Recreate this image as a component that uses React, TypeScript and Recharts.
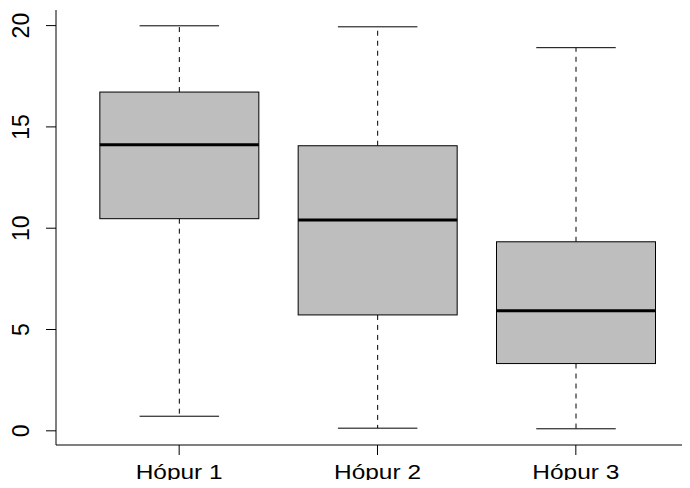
import React from 'react'
import { ComposedChart, Bar, XAxis, YAxis } from 'recharts'

// five-number summaries per group
const groups = ['Hópur 1', 'Hópur 2', 'Hópur 3']
const lowerWhisker = [0.72, 0.13, 0.1]
const lowerQuartile = [10.47, 5.72, 3.32]
const medians = [14.12, 10.4, 5.93]
const upperQuartile = [16.72, 14.07, 9.33]
const upperWhisker = [19.99, 19.94, 18.91]
const yTicks = [0, 5, 10, 15, 20]

const data = groups.map((name, i) => ({
  name,
  low: lowerWhisker[i],
  q1: lowerQuartile[i],
  med: medians[i],
  q3: upperQuartile[i],
  high: upperWhisker[i],
}))

const FONT = '"Liberation Sans", Arial, Helvetica, sans-serif'

// the bar spans the whisker range; the rest of the box is placed along the same scale
function BoxShape(props: any) {
  const { x, y, width, height } = props
  const d = props.payload ?? props
  const top = Math.min(y, y + height)
  const span = Math.abs(height)
  const k = span / (d.high - d.low)
  const py = (v: number) => top + (d.high - v) * k
  const cx = x + width / 2
  const capHalf = width / 4
  return (
    <g>
      <line x1={cx} x2={cx} y1={py(d.q3)} y2={py(d.high)} stroke="#000" strokeDasharray="5,5" />
      <line x1={cx} x2={cx} y1={py(d.q1)} y2={py(d.low)} stroke="#000" strokeDasharray="5,5" />
      <line x1={cx - capHalf} x2={cx + capHalf} y1={py(d.high)} y2={py(d.high)} stroke="#000" />
      <line x1={cx - capHalf} x2={cx + capHalf} y1={py(d.low)} y2={py(d.low)} stroke="#000" />
      <rect
        x={x}
        y={py(d.q3)}
        width={width}
        height={py(d.q1) - py(d.q3)}
        fill="#BEBEBE"
        stroke="#000"
        strokeWidth={1}
      />
      <line x1={x} x2={x + width} y1={py(d.med)} y2={py(d.med)} stroke="#000" strokeWidth={3} />
    </g>
  )
}

function GroupTick({ x, y, payload }: any) {
  return (
    <text
      x={x}
      y={y + 22}
      textAnchor="middle"
      fontFamily={FONT}
      fontSize={20}
      fill="#000"
      textLength={87}
      lengthAdjust="spacingAndGlyphs"
    >
      {payload.value}
    </text>
  )
}

function ValueTick({ x, y, payload }: any) {
  const tx = x - 15
  return (
    <text
      x={tx}
      y={y}
      transform={`rotate(-90, ${tx}, ${y})`}
      textAnchor="middle"
      fontFamily={FONT}
      fontSize={23}
      fill="#000"
    >
      {payload.value}
    </text>
  )
}

export default function App() {
  return (
    <div style={{ margin: -8, width: 690, height: 488, overflow: 'hidden', background: '#fff' }}>
      <ComposedChart
        width={710}
        height={488}
        data={data}
        margin={{ top: 10, right: 11, bottom: 0, left: 0 }}
        barCategoryGap="10%"
      >
        <XAxis
          dataKey="name"
          height={43}
          padding={{ left: 24, right: 24 }}
          tickSize={10}
          tickLine={{ stroke: '#000' }}
          axisLine={{ stroke: '#000' }}
          tick={<GroupTick />}
          interval={0}
        />
        <XAxis
          xAxisId="top"
          orientation="top"
          dataKey="name"
          height={0}
          padding={{ left: 24, right: 24 }}
          tick={false}
          tickLine={false}
          axisLine={{ stroke: '#000' }}
        />
        <YAxis
          type="number"
          width={56}
          domain={[-0.7, 20.77]}
          ticks={yTicks}
          allowDataOverflow
          tickSize={10}
          tickLine={{ stroke: '#000' }}
          axisLine={{ stroke: '#000' }}
          tick={<ValueTick />}
        />
        <Bar
          dataKey={(d: any) => [d.low, d.high]}
          shape={<BoxShape />}
          isAnimationActive={false}
        />
      </ComposedChart>
    </div>
  )
}
